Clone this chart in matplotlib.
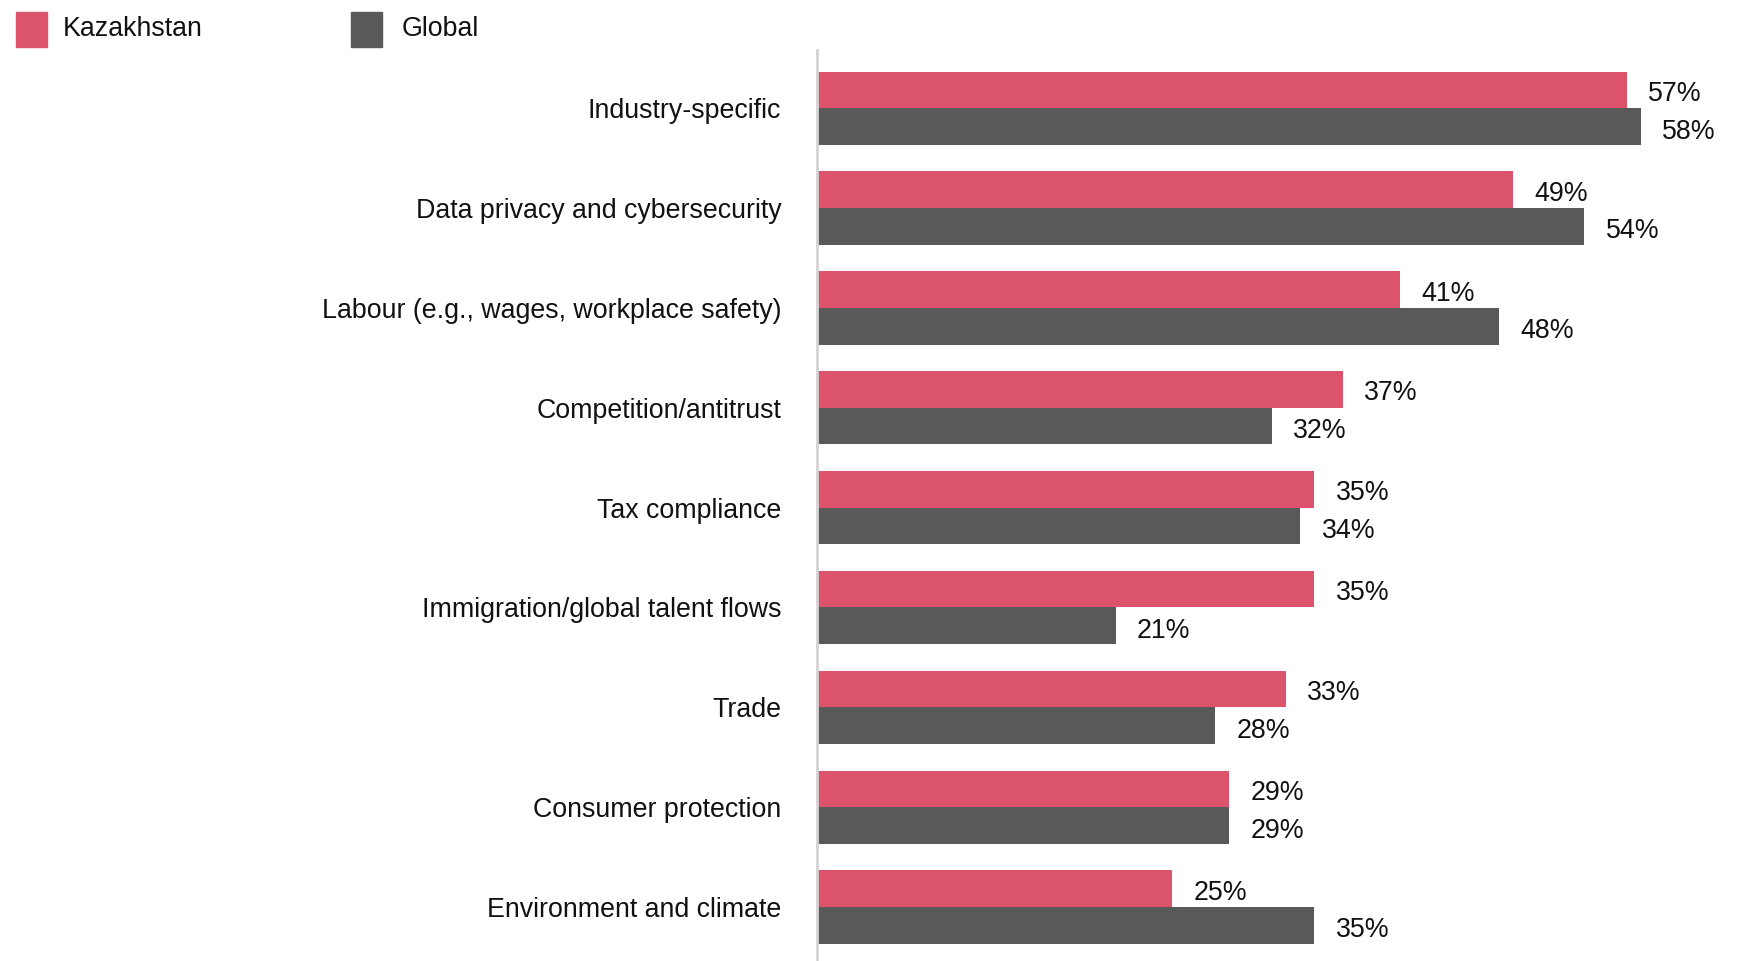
import matplotlib.pyplot as plt
from matplotlib.patches import Rectangle
import numpy as np

plt.rcParams['font.family'] = ['Liberation Sans', 'DejaVu Sans']

categories = ["Industry-specific", "Data privacy and cybersecurity",
              "Labour (e.g., wages, workplace safety)", "Competition/antitrust",
              "Tax compliance", "Immigration/global talent flows", "Trade",
              "Consumer protection", "Environment and climate"]
kazakhstan = [57, 49, 41, 37, 35, 35, 33, 29, 25]
global_vals = [58, 54, 48, 32, 34, 21, 28, 29, 35]

pink = "#dc546b"
grey = "#595959"
fs = 19.3

fig = plt.figure(figsize=(17.39, 9.61), dpi=100)
ax = fig.add_axes([0.470, 0.0, 0.530, 0.948])

y = np.arange(len(categories))
h = 0.367
ax.barh(y - h / 2, kazakhstan, height=h, color=pink)
ax.barh(y + h / 2, global_vals, height=h, color=grey)

for i in range(len(categories)):
    ax.text(kazakhstan[i] + 1.5, y[i] - h / 2 + 0.04, f"{kazakhstan[i]}%",
            va="center", ha="left", fontsize=fs, color="#111111")
    ax.text(global_vals[i] + 1.5, y[i] + h / 2 + 0.05, f"{global_vals[i]}%",
            va="center", ha="left", fontsize=fs, color="#111111")

ax.set_xlim(0, 64.9)
ax.set_ylim(8.54, -0.583)
ax.set_yticks(y)
ax.set_yticklabels(categories, fontsize=fs, color="#111111")
ax.tick_params(axis="y", length=0, pad=26)
ax.set_xticks([])
for s in ["top", "right", "bottom"]:
    ax.spines[s].set_visible(False)
ax.spines["left"].set_color("#d4d4d4")
ax.spines["left"].set_linewidth(2)

# legend drawn by hand at the top left
W, H = 1739, 961
fig.patches.append(Rectangle((16 / W, 1 - 47 / H), 31 / W, 35 / H, color=pink,
                             transform=fig.transFigure))
fig.text(63 / W, 1 - 29 / H, "Kazakhstan", fontsize=fs, va="center", color="#111111")
fig.patches.append(Rectangle((351 / W, 1 - 47 / H), 31 / W, 35 / H, color=grey,
                             transform=fig.transFigure))
fig.text(402 / W, 1 - 29 / H, "Global", fontsize=fs, va="center", color="#111111")

plt.savefig("out.png", dpi=100)
